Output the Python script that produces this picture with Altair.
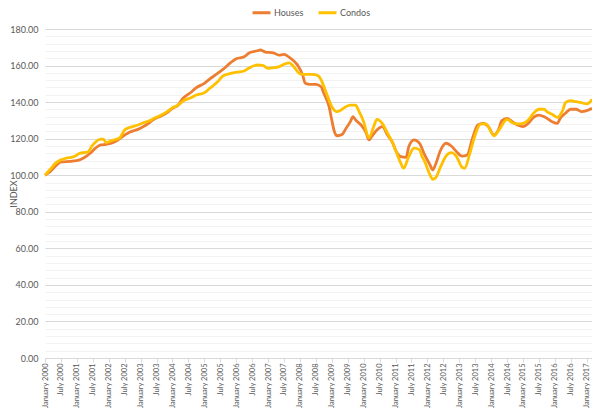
import json
import altair as alt
import pandas as pd

# mois depuis janvier 2000 et valeurs
HOUSES_M = [0, 2, 4, 6, 8, 11, 13, 15, 17, 19, 21, 23, 25, 27, 30, 32, 35, 37, 39, 41,
            43, 46, 48, 50, 52, 55, 57, 60, 62, 65, 67, 70, 72, 75, 77, 80, 81, 83, 86, 88,
            90, 92, 95, 97, 98, 100, 102, 104, 105, 107, 108, 109, 110, 112, 113, 115, 116, 117, 119, 121,
            122, 123, 125, 127, 129, 131, 132, 134, 136, 137, 139, 141, 143, 145, 146, 147, 149, 151, 153, 155,
            157, 159, 161, 163, 165, 167, 169, 171, 172, 174, 176, 178, 180, 182, 184, 186, 188, 191, 193, 194,
            196, 198, 200, 202, 204, 206]
HOUSES = [100.0, 102.0, 105.1, 107.3, 107.4, 107.8, 108.4, 109.8, 112.0, 114.8,
          116.6, 116.9, 117.5, 118.9, 122.0, 123.7, 125.1, 126.6, 128.4, 130.6,
          132.0, 134.2, 136.6, 138.2, 142.1, 145.4, 147.9, 150.3, 152.6, 155.7,
          157.9, 161.7, 163.7, 164.8, 167.0, 168.1, 168.5, 167.4, 167.0, 165.7,
          166.1, 164.5, 160.5, 155.0, 150.3, 149.7, 149.7, 148.4, 144.8, 137.5,
          130.2, 123.8, 121.6, 122.4, 124.8, 129.3, 132.0, 130.2, 127.5, 123.0,
          119.3, 121.1, 124.8, 126.6, 122.0, 117.5, 113.8, 110.2, 109.8, 115.6,
          119.3, 117.5, 111.1, 105.6, 102.9, 105.6, 113.8, 117.5, 116.0, 112.9,
          110.5, 111.1, 120.2, 127.5, 128.4, 126.6, 122.0, 125.7, 129.8, 131.1,
          129.3, 127.5, 126.6, 128.4, 131.7, 132.9, 132.0, 129.3, 128.4, 131.1,
          133.9, 136.1, 136.1, 134.8, 135.3, 136.6]

CONDOS_M = [0, 2, 4, 6, 8, 11, 13, 16, 18, 21, 22, 23, 25, 28, 30, 32, 35, 37, 40, 41,
            43, 46, 48, 50, 52, 55, 57, 60, 62, 65, 67, 70, 72, 75, 77, 80, 82, 84, 86, 88,
            90, 92, 94, 96, 98, 101, 103, 104, 106, 108, 110, 111, 113, 115, 117, 118, 120, 122, 124, 125,
            127, 129, 131, 132, 134, 135, 137, 139, 141, 142, 143, 145, 146, 147, 149, 151, 153, 155, 157, 158,
            160, 162, 164, 166, 168, 169, 171, 173, 174, 176, 178, 180, 182, 184, 186, 188, 189, 191, 193, 195,
            196, 198, 200, 202, 204, 205, 206]
CONDOS = [100.0, 103.3, 106.6, 108.4, 109.3, 110.2, 112.0, 112.6, 116.6, 119.8,
          119.7, 117.8, 118.9, 120.2, 124.8, 126.2, 127.5, 128.7, 130.2, 131.1,
          132.4, 134.8, 137.0, 138.2, 140.6, 142.4, 143.9, 145.1, 147.5, 151.1,
          154.3, 155.7, 156.3, 157.0, 158.8, 160.3, 160.1, 158.5, 158.8, 159.3,
          160.7, 161.5, 158.8, 155.5, 155.2, 155.2, 154.3, 152.1, 144.8, 137.5,
          134.8, 135.3, 137.2, 138.4, 138.4, 135.7, 129.3, 120.5, 127.5, 130.6,
          128.4, 123.0, 117.5, 113.8, 106.6, 103.8, 110.2, 114.8, 114.0, 110.2,
          107.4, 100.2, 97.8, 98.4, 104.7, 110.5, 112.4, 110.2, 104.4, 103.8,
          112.0, 122.0, 127.9, 128.1, 123.8, 121.5, 124.8, 129.3, 130.6, 128.7,
          128.1, 128.4, 130.2, 133.9, 136.1, 136.1, 134.8, 133.3, 131.7, 135.7,
          139.7, 140.8, 140.2, 139.7, 139.0, 139.7, 141.5]

SERIES = ['Houses', 'Condos']
COLORS = ['#ED7D31', '#FFC000']
X_LABELS = [f'{mois} {an}' for an in range(2000, 2018) for mois in ('January', 'July')][:-1]

df = pd.concat([
    pd.DataFrame({'mois': HOUSES_M, 'index': HOUSES, 'serie': 'Houses'}),
    pd.DataFrame({'mois': CONDOS_M, 'index': CONDOS, 'serie': 'Condos'}),
])

FONT = 'Lato'
GRIS = '#595959'

x = alt.X('mois:Q', title=None,
          scale=alt.Scale(domain=[0, 206], nice=False, zero=False),
          axis=alt.Axis(values=list(range(0, 205, 6)),
                        labelExpr=json.dumps(X_LABELS) + '[datum.value / 6]',
                        labelAngle=270, labelFontSize=7.5, labelColor=GRIS, labelFont=FONT,
                        labelPadding=1, labelFlush=False, labelOverlap=False,
                        grid=False, tickSize=4, tickColor='#D9D9D9', domainColor='#D9D9D9'))
y = alt.Y('index:Q', title='INDEX',
          scale=alt.Scale(domain=[0, 180], nice=False),
          axis=alt.Axis(values=list(range(0, 181, 4)),
                        labelExpr="datum.value % 20 === 0 ? format(datum.value, '.2f') : ''",
                        labelFontSize=9, labelColor=GRIS, labelFont=FONT, labelPadding=7,
                        labelOverlap=False, ticks=False, domain=False,
                        gridColor={'condition': {'test': 'datum.value % 20 === 0', 'value': '#D9D9D9'},
                                   'value': '#F2F2F2'},
                        titleFont=FONT, titleFontSize=9, titleFontWeight='normal', titleColor=GRIS,
                        titleAngle=270, titleX=-27, titleY=164.5, titleAlign='center',
                        titleBaseline='bottom'))
color = alt.Color('serie:N', scale=alt.Scale(domain=SERIES, range=COLORS),
                  legend=alt.Legend(title=None, orient='none', direction='horizontal',
                                    legendX=206, legendY=-27, symbolType='stroke',
                                    symbolSize=320, symbolStrokeWidth=3, labelFont=FONT,
                                    labelFontSize=9, labelColor=GRIS, labelOffset=2,
                                    columnPadding=8))

base = alt.Chart(df).mark_line(interpolate='monotone', strokeWidth=2.8).encode(x=x, y=y, color=color)

chart = alt.layer(
    base.transform_filter(alt.datum.serie == 'Houses'),
    base.transform_filter(alt.datum.serie == 'Condos'),
).properties(
    width=547, height=329, autosize='none',
    padding={'left': 37, 'top': 21, 'right': 0, 'bottom': 52},
).configure_view(stroke=None)

chart.save('out.html', embed_options={'renderer': 'svg', 'actions': False})
